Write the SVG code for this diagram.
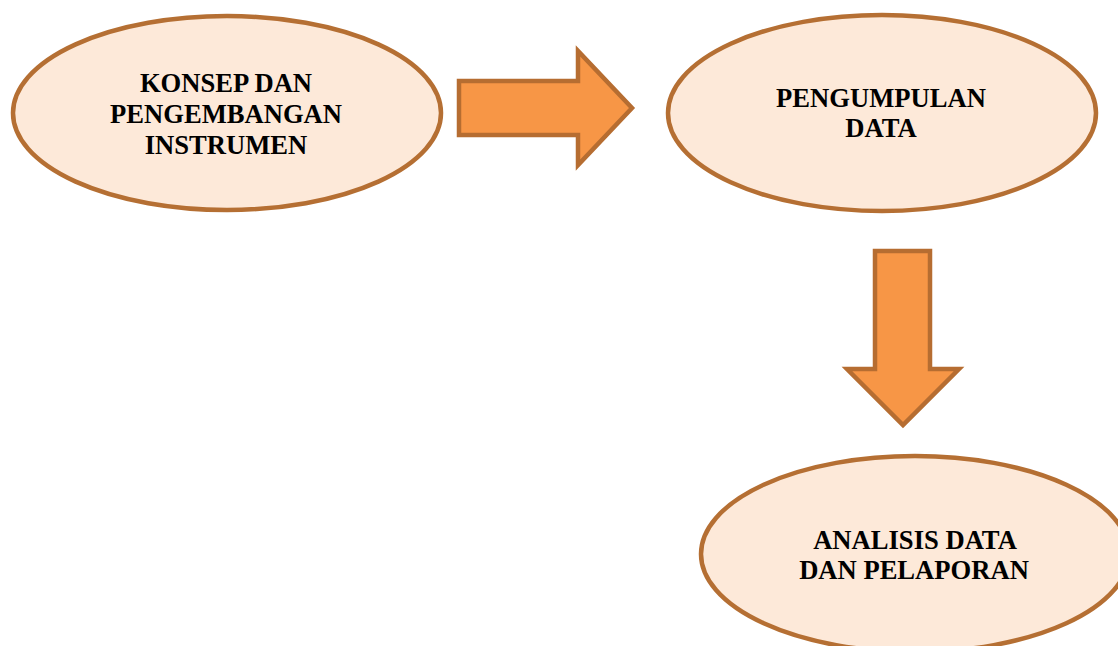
<svg xmlns="http://www.w3.org/2000/svg" width="1118" height="646" viewBox="0 0 1118 646">
<style>
.node ellipse{fill:#FDE9D9;stroke:#B56F33;stroke-width:4.5}
.node text{font-family:"Liberation Serif","Times New Roman",serif;font-weight:bold;font-size:26.6px;fill:#000;text-anchor:middle}
.arrow{fill:#F79646;stroke:#B66D31;stroke-width:4.5;stroke-linejoin:miter}
</style>
<rect width="1118" height="646" fill="#fff"/>
<g id="node-konsep" class="node">
<ellipse cx="227" cy="113" rx="214" ry="97"/>
<text x="226" y="92">KONSEP DAN</text>
<text x="226" y="123">PENGEMBANGAN</text>
<text x="226" y="154">INSTRUMEN</text>
</g>
<g id="node-pengumpulan" class="node">
<ellipse cx="882" cy="113" rx="214" ry="98"/>
<text x="881" y="107">PENGUMPULAN</text>
<text x="881" y="137">DATA</text>
</g>
<g id="node-analisis" class="node">
<ellipse cx="915" cy="554" rx="214" ry="98"/>
<text x="915" y="549">ANALISIS DATA</text>
<text x="914" y="579">DAN PELAPORAN</text>
</g>
<g id="connectors">
<polygon class="arrow" points="459,81 578,81 578,51 632,108 578,165 578,135 459,135"/>
<polygon class="arrow" points="875,251 930,251 930,369 959,369 903,425 847,369 875,369"/>
</g>
</svg>
